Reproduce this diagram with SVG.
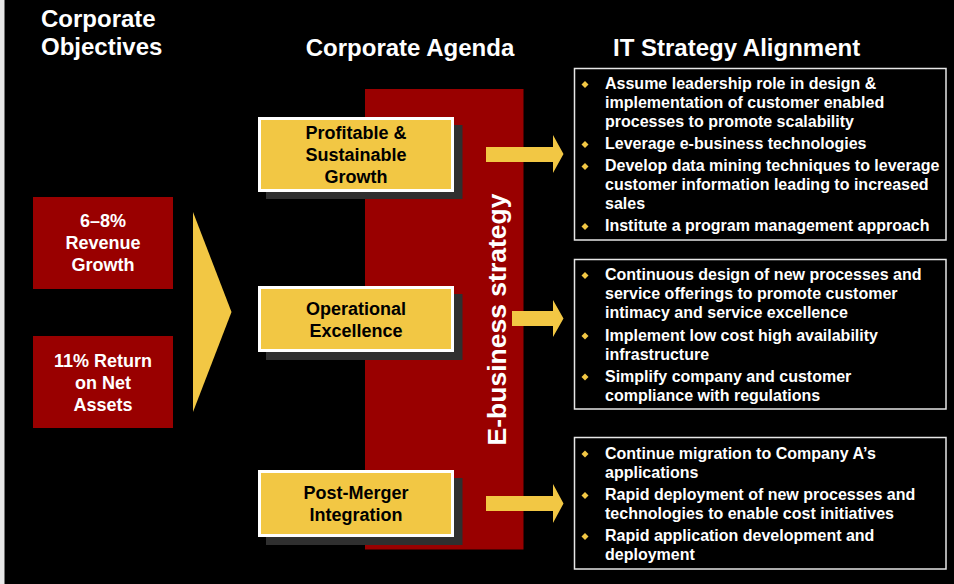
<svg xmlns="http://www.w3.org/2000/svg" width="954" height="584" viewBox="0 0 954 584">
<style>
.hdr{font-family:"Liberation Sans",Arial,sans-serif;font-weight:bold;font-size:24px;fill:#fff}
.obj{font-family:"Liberation Sans",Arial,sans-serif;font-weight:bold;font-size:18px;fill:#fff;text-anchor:middle}
.agd{font-family:"Liberation Sans",Arial,sans-serif;font-weight:bold;font-size:18px;fill:#000;text-anchor:middle}
.itx{font-family:"Liberation Sans",Arial,sans-serif;font-weight:bold;font-size:16px;fill:#fff}
.red{fill:#990000}
.ybox{fill:#F2C744;stroke:#fff;stroke-width:3}
.shadow{fill:#2f2f2f}
.ibox{fill:#000;stroke:#e6e6e6;stroke-width:1.5}
.gold{fill:#F2C744}
.band{font-family:"Liberation Sans",Arial,sans-serif;font-weight:bold;font-size:26.5px;fill:#fff;text-anchor:middle}
</style>
<defs>
<path id="dia" d="M0,-3.5 L3.5,0 L0,3.5 L-3.5,0 Z" fill="#F2C744"/>
</defs>
<rect x="0" y="0" width="954" height="584" fill="#000"/>
<rect x="0" y="0" width="4.5" height="584" fill="#e8e8e8"/>

<g id="headers">
<text class="hdr" x="41" y="27">Corporate</text>
<text class="hdr" x="41" y="55">Objectives</text>
<text class="hdr" x="410" y="56" text-anchor="middle">Corporate Agenda</text>
<text class="hdr" x="613" y="56">IT Strategy Alignment</text>
</g>

<g id="ebusiness-band">
<rect class="red" x="365" y="89" width="158.5" height="460.5"/>
<text class="band" transform="translate(506,319.5) rotate(-90)">E-business strategy</text>
</g>

<g id="obj-revenue">
<rect class="red" x="33" y="197" width="140" height="92"/>
<text class="obj" x="103" y="227">6–8%</text>
<text class="obj" x="103" y="249">Revenue</text>
<text class="obj" x="103" y="271">Growth</text>
</g>

<g id="obj-return">
<rect class="red" x="33" y="336" width="140" height="92"/>
<text class="obj" x="103" y="367">11% Return</text>
<text class="obj" x="103" y="389">on Net</text>
<text class="obj" x="103" y="411">Assets</text>
</g>

<g id="agenda-growth">
<rect class="shadow" x="266" y="125" width="196.5" height="74"/>
<rect class="ybox" x="259.5" y="118.5" width="193" height="72"/>
<text class="agd" x="356" y="139">Profitable &amp;</text>
<text class="agd" x="356" y="161">Sustainable</text>
<text class="agd" x="356" y="183">Growth</text>
</g>

<g id="agenda-operational">
<rect class="shadow" x="266" y="294" width="196.5" height="66"/>
<rect class="ybox" x="259.5" y="287.5" width="193" height="63"/>
<text class="agd" x="356" y="315">Operational</text>
<text class="agd" x="356" y="337">Excellence</text>
</g>

<g id="agenda-merger">
<rect class="shadow" x="266" y="478" width="196.5" height="67"/>
<rect class="ybox" x="259.5" y="471.5" width="193" height="64"/>
<text class="agd" x="356" y="499">Post-Merger</text>
<text class="agd" x="356" y="521">Integration</text>
</g>

<g id="it-growth">
<rect class="ibox" x="574.5" y="68.5" width="371.5" height="171.5"/>
<use href="#dia" x="585" y="84.5"/>
<text class="itx" x="605" y="89">Assume leadership role in design &amp;</text>
<text class="itx" x="605" y="108">implementation of customer enabled</text>
<text class="itx" x="605" y="127">processes to promote scalability</text>
<use href="#dia" x="585" y="144.5"/>
<text class="itx" x="605" y="149">Leverage e-business technologies</text>
<use href="#dia" x="585" y="166.5"/>
<text class="itx" x="605" y="171">Develop data mining techniques to leverage</text>
<text class="itx" x="605" y="190">customer information leading to increased</text>
<text class="itx" x="605" y="209">sales</text>
<use href="#dia" x="585" y="226.5"/>
<text class="itx" x="605" y="231">Institute a program management approach</text>
</g>

<g id="it-operational">
<rect class="ibox" x="574.5" y="259.5" width="371.5" height="149.5"/>
<use href="#dia" x="585" y="275.5"/>
<text class="itx" x="605" y="280">Continuous design of new processes and</text>
<text class="itx" x="605" y="299">service offerings to promote customer</text>
<text class="itx" x="605" y="318">intimacy and service excellence</text>
<use href="#dia" x="585" y="336"/>
<text class="itx" x="605" y="340.5">Implement low cost high availability</text>
<text class="itx" x="605" y="359.5">infrastructure</text>
<use href="#dia" x="585" y="377"/>
<text class="itx" x="605" y="381.5">Simplify company and customer</text>
<text class="itx" x="605" y="400.5">compliance with regulations</text>
</g>

<g id="it-merger">
<rect class="ibox" x="574.5" y="437.5" width="371.5" height="131.5"/>
<use href="#dia" x="585" y="454"/>
<text class="itx" x="605" y="458.5">Continue migration to Company A’s</text>
<text class="itx" x="605" y="477.5">applications</text>
<use href="#dia" x="585" y="495.5"/>
<text class="itx" x="605" y="500">Rapid deployment of new processes and</text>
<text class="itx" x="605" y="519">technologies to enable cost initiatives</text>
<use href="#dia" x="585" y="536.5"/>
<text class="itx" x="605" y="541">Rapid application development and</text>
<text class="itx" x="605" y="560">deployment</text>
</g>

<g id="connectors">
<polygon class="gold" points="193,212 231.5,312 193,412"/>
<path class="gold" d="M486,147 H553 V135 L563.5,154 L553,173 V162 H486 Z"/>
<path class="gold" d="M512,311 H553 V300 L563.5,318.5 L553,337 V326 H512 Z"/>
<path class="gold" d="M486,496 H553 V484 L563.5,503.5 L553,523 V511 H486 Z"/>
</g>
</svg>
